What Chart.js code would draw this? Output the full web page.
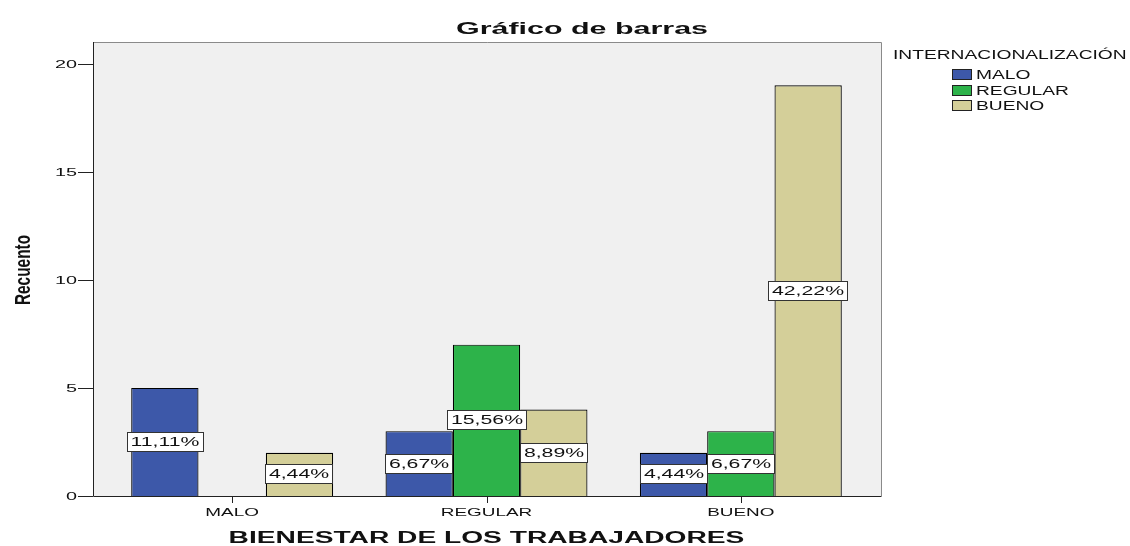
<!DOCTYPE html>
<html>
<head>
<meta charset="utf-8">
<script src="https://cdn.jsdelivr.net/npm/chart.js@4/dist/chart.umd.min.js"></script>
<style>
  html, body { margin: 0; padding: 0; background: #fff; }
  #wrap { width: 1130px; height: 546px; position: relative; }
</style>
</head>
<body>
<div id="wrap"><canvas id="chart"></canvas></div>
<script>
// ---------------- Data ----------------
const categories = ["MALO", "REGULAR", "BUENO"];
const seriesNames = ["MALO", "REGULAR", "BUENO"];
const maloValues = [5, 3, 2];
const regularValues = [0, 7, 3];
const buenoValues = [2, 4, 19];
const yTicks = [0, 5, 10, 15, 20];

const colors = ["#3d58a9", "#2db34a", "#d4cf99"];
const FONT = "'Liberation Sans', Arial, sans-serif";
const PAD = 12; // plot frame extends a bit beyond the category band

const total = [...maloValues, ...regularValues, ...buenoValues].reduce((s, v) => s + v, 0);
const pct = v => (v / total * 100).toFixed(2).replace(".", ",") + "%";

// the reference renders its text horizontally stretched
function wideText(ctx, txt, x, y, sx, align) {
    ctx.save();
    ctx.translate(x, y);
    ctx.scale(sx, 1);
    ctx.textAlign = align;
    ctx.fillText(txt, 0, 0);
    ctx.restore();
}

// ---------------- Plugin ----------------
const frame = {
    id: "frame",
    beforeDraw(chart) {
        const { ctx, chartArea: a } = chart;
        const l = a.left - PAD, r = a.right + PAD + 1;
        ctx.save();
        ctx.fillStyle = "#f0f0f0";
        ctx.fillRect(l, a.top, r - l, a.bottom - a.top);
        ctx.lineWidth = 1;
        ctx.strokeStyle = "#8a8a8a";
        ctx.beginPath();
        ctx.moveTo(l, a.top + 0.5); ctx.lineTo(r + 0.5, a.top + 0.5); ctx.lineTo(r + 0.5, a.bottom);
        ctx.stroke();
        ctx.restore();
    },
    afterDatasetsDraw(chart) {
        const { ctx, chartArea: a, scales } = chart;
        const l = a.left - PAD, r = a.right + PAD + 1;
        ctx.save();
        ctx.strokeStyle = "#222";
        ctx.lineWidth = 1;
        ctx.beginPath();
        ctx.moveTo(l + 0.5, a.top); ctx.lineTo(l + 0.5, a.bottom + 0.5); ctx.lineTo(r + 0.5, a.bottom + 0.5);
        scales.y.ticks.forEach(t => {
            const y = Math.round(scales.y.getPixelForValue(t.value)) + 0.5;
            ctx.moveTo(l - 15, y); ctx.lineTo(l, y);
        });
        categories.forEach((c, i) => {
            const x = Math.round(scales.x.getPixelForValue(i)) + 0.5;
            ctx.moveTo(x, a.bottom); ctx.lineTo(x, a.bottom + 7);
        });
        ctx.stroke();

        // percentage labels
        ctx.font = "12px " + FONT;
        ctx.textBaseline = "middle";
        chart.data.datasets.forEach((ds, i) => {
            chart.getDatasetMeta(i).data.forEach((bar, j) => {
                const v = ds.data[j];
                if (!v) return;
                const txt = pct(v);
                const w = Math.round(ctx.measureText(txt).width * 1.77 + 8), h = 20;
                const cx = Math.round(bar.x), cy = Math.round((bar.y + bar.base) / 2);
                const bx = Math.round(cx - w / 2), by = cy - h / 2;
                ctx.fillStyle = "#fff";
                ctx.fillRect(bx, by, w, h);
                ctx.strokeStyle = "#333";
                ctx.strokeRect(bx + 0.5, by + 0.5, w - 1, h - 1);
                ctx.fillStyle = "#111";
                wideText(ctx, txt, cx, cy + 1, 1.77, "center");
            });
        });
        ctx.restore();
    },
    afterDraw(chart) {
        const { ctx, chartArea: a, scales } = chart;
        const l = a.left - PAD;
        ctx.save();
        ctx.fillStyle = "#111";

        // title
        ctx.font = "bold 17px " + FONT;
        ctx.textBaseline = "alphabetic";
        wideText(ctx, "Gráfico de barras", 582, 34, 1.79, "center");

        // y tick labels
        ctx.font = "11px " + FONT;
        ctx.textBaseline = "middle";
        scales.y.ticks.forEach(t => {
            wideText(ctx, String(t.value), l - 16, scales.y.getPixelForValue(t.value) + 1, 1.8, "right");
        });

        // category labels
        ctx.textBaseline = "alphabetic";
        categories.forEach((c, i) => {
            wideText(ctx, c, scales.x.getPixelForValue(i), 516, 1.72, "center");
        });

        // axis titles
        ctx.font = "bold 16px " + FONT;
        wideText(ctx, "BIENESTAR DE LOS TRABAJADORES", (l + a.right + PAD) / 2, 543, 1.76, "center");

        ctx.save();
        ctx.translate(30, (a.top + a.bottom) / 2 + 1);
        ctx.rotate(-Math.PI / 2);
        ctx.scale(1, 1.45);
        ctx.font = "bold 15.4px " + FONT;
        ctx.textAlign = "center";
        ctx.fillText("Recuento", 0, 0);
        ctx.restore();

        // legend
        ctx.font = "12px " + FONT;
        ctx.textBaseline = "alphabetic";
        wideText(ctx, "INTERNACIONALIZACIÓN", 893, 59, 1.6, "left");
        chart.data.datasets.forEach((ds, i) => {
            const y = Math.round(69 + i * 15.5);
            ctx.fillStyle = ds.backgroundColor;
            ctx.fillRect(952, y, 19, 10);
            ctx.strokeStyle = "#222";
            ctx.strokeRect(952.5, y + 0.5, 19, 10);
            ctx.fillStyle = "#111";
            wideText(ctx, ds.label, 976, y + 10, 1.6, "left");
        });
        ctx.restore();
    }
};

// ---------------- Chart ----------------
const valueSets = [maloValues, regularValues, buenoValues];

new Chart(document.getElementById("chart"), {
    type: "bar",
    data: {
        labels: categories,
        datasets: seriesNames.map((name, i) => ({
            label: name,
            data: valueSets[i],
            backgroundColor: colors[i],
            borderColor: "#000",
            borderWidth: 1.2,
            categoryPercentage: 0.794,
            barPercentage: 1
        }))
    },
    options: {
        responsive: true,
        maintainAspectRatio: false,
        animation: false,
        layout: { padding: { left: 0, right: 262, top: 42, bottom: 0 } },
        plugins: {
            legend: { display: false },
            title: { display: false },
            tooltip: { enabled: false }
        },
        scales: {
            x: {
                afterFit: s => { s.height = 50; },
                grid: { display: false },
                border: { display: false },
                ticks: { display: false }
            },
            y: {
                min: 0,
                max: 21,
                afterFit: s => { s.width = 105; },
                afterBuildTicks: s => { s.ticks = yTicks.map(v => ({ value: v })); },
                grid: { display: false },
                border: { display: false },
                ticks: { display: false }
            }
        }
    },
    plugins: [frame]
});
</script>
</body>
</html>
